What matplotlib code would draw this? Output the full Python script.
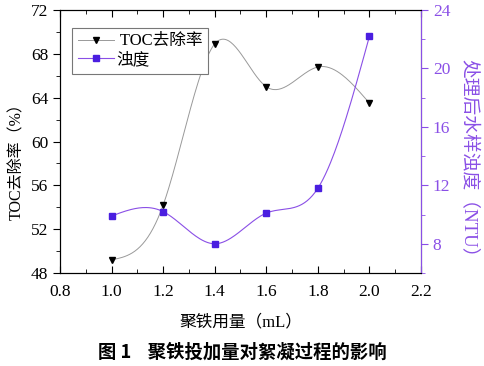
import numpy as np
import matplotlib
matplotlib.use("Agg")
import matplotlib.pyplot as plt
from matplotlib.ticker import AutoMinorLocator, FuncFormatter
from matplotlib.lines import Line2D

dose = [1.0, 1.2, 1.4, 1.6, 1.8, 2.0]
toc_removal = [49.2, 54.2, 68.9, 65.0, 66.8, 63.5]
turbidity = [9.9, 10.2, 8.0, 10.1, 11.8, 22.2]

x_ticks = [0.8, 1.0, 1.2, 1.4, 1.6, 1.8, 2.0, 2.2]
left_ticks = [48, 52, 56, 60, 64, 68, 72]
right_ticks = [8, 12, 16, 20, 24]

FONT = ['Liberation Serif', 'Noto Sans CJK SC', 'DejaVu Sans']
CJK = ['Noto Sans CJK SC', 'DejaVu Sans']
plt.rcParams['font.family'] = FONT

PURPLE = '#8a4fe6'
MARK = '#4a1ee0'
GREY = '#999999'


def natural_spline(x, y, n=200):
    x = np.asarray(x, float)
    y = np.asarray(y, float)
    k = len(x)
    h = np.diff(x)
    A = np.zeros((k, k))
    b = np.zeros(k)
    A[0, 0] = 1
    A[-1, -1] = 1
    for i in range(1, k - 1):
        A[i, i - 1] = h[i - 1]
        A[i, i] = 2 * (h[i - 1] + h[i])
        A[i, i + 1] = h[i]
        b[i] = 3 * ((y[i + 1] - y[i]) / h[i] - (y[i] - y[i - 1]) / h[i - 1])
    c = np.linalg.solve(A, b)
    xs = np.linspace(x[0], x[-1], n)
    ys = np.empty_like(xs)
    for j, xv in enumerate(xs):
        i = min(np.searchsorted(x, xv, side='right') - 1, k - 2)
        bi = (y[i + 1] - y[i]) / h[i] - h[i] * (2 * c[i] + c[i + 1]) / 3
        di = (c[i + 1] - c[i]) / (3 * h[i])
        t = xv - x[i]
        ys[j] = y[i] + bi * t + c[i] * t ** 2 + di * t ** 3
    return xs, ys


fig = plt.figure(figsize=(4.84, 3.66), dpi=100)
ax = fig.add_axes([60 / 484, 1 - 273 / 366, (421 - 60) / 484, (273 - 10) / 366])
ax2 = ax.twinx()

xs, ys = natural_spline(dose, toc_removal)
ax.plot(xs, ys, color=GREY, lw=0.7)
ax.plot(dose, toc_removal, linestyle='none', marker='v', color='black', ms=5)
xs2, ys2 = natural_spline(dose, turbidity)
ax2.plot(xs2, ys2, color=PURPLE, lw=0.8)
ax2.plot(dose, turbidity, linestyle='none', marker='s', color=MARK, ms=4.5)

ax.set_xlim(0.8, 2.2)
ax.set_ylim(48, 72)
ax2.set_ylim(6, 24)
ax.set_xticks(x_ticks)
ax.set_yticks(left_ticks)
ax2.set_yticks(right_ticks)
ax.xaxis.set_minor_locator(AutoMinorLocator(2))
ax.yaxis.set_minor_locator(AutoMinorLocator(2))
ax2.yaxis.set_minor_locator(AutoMinorLocator(2))
ax.xaxis.set_major_formatter(FuncFormatter(lambda v, p: f"{v:.1f}"))

ax.tick_params(axis='x', which='both', direction='in', top=True, labelsize=12.5, pad=8)
ax.tick_params(axis='x', which='major', length=5)
ax.tick_params(axis='x', which='minor', length=3)
ax.tick_params(axis='y', which='major', direction='out', length=5, labelsize=12.5)
ax.tick_params(axis='y', which='minor', direction='out', length=3)
ax2.tick_params(axis='y', which='major', direction='out', length=5, labelsize=12.5,
                colors=PURPLE)
ax2.tick_params(axis='y', which='minor', direction='out', length=3, colors=PURPLE)
ax2.spines['right'].set_color(PURPLE)

ax.set_xlabel('聚铁用量（mL）', fontsize=12, family=FONT, labelpad=10)
ax.set_ylabel('TOC去除率（%）', fontsize=11.5, family=FONT, va='center')
ax.yaxis.set_label_coords(-0.118, 0.44)
ax2.set_ylabel('处理后水样浊度（NTU）', fontsize=13.5, family=FONT, color=PURPLE,
               rotation=-90, va='center')
ax2.yaxis.set_label_coords(1.13, 0.42)

h1 = Line2D([], [], color=GREY, lw=0.7, marker='v', mfc='black', mec='black', ms=5)
h2 = Line2D([], [], color=PURPLE, lw=0.8, marker='s', mfc=MARK, mec=MARK, ms=4)
leg = ax.legend([h1, h2], [' TOC去除率', '浊度'], loc='upper left',
                bbox_to_anchor=(0.01, 0.965), fancybox=False, edgecolor='#777777',
                prop={'family': FONT, 'size': 12}, handlelength=2.2,
                handletextpad=0.1, borderpad=0.35, labelspacing=0.15, framealpha=1)
leg.get_frame().set_linewidth(0.8)

fig.text(0.5, 1 - 352 / 366, '图 1    聚铁投加量对絮凝过程的影响', ha='center', va='center',
         fontsize=13.2, fontweight='bold', family=CJK)

fig.savefig('out.png', dpi=100)
